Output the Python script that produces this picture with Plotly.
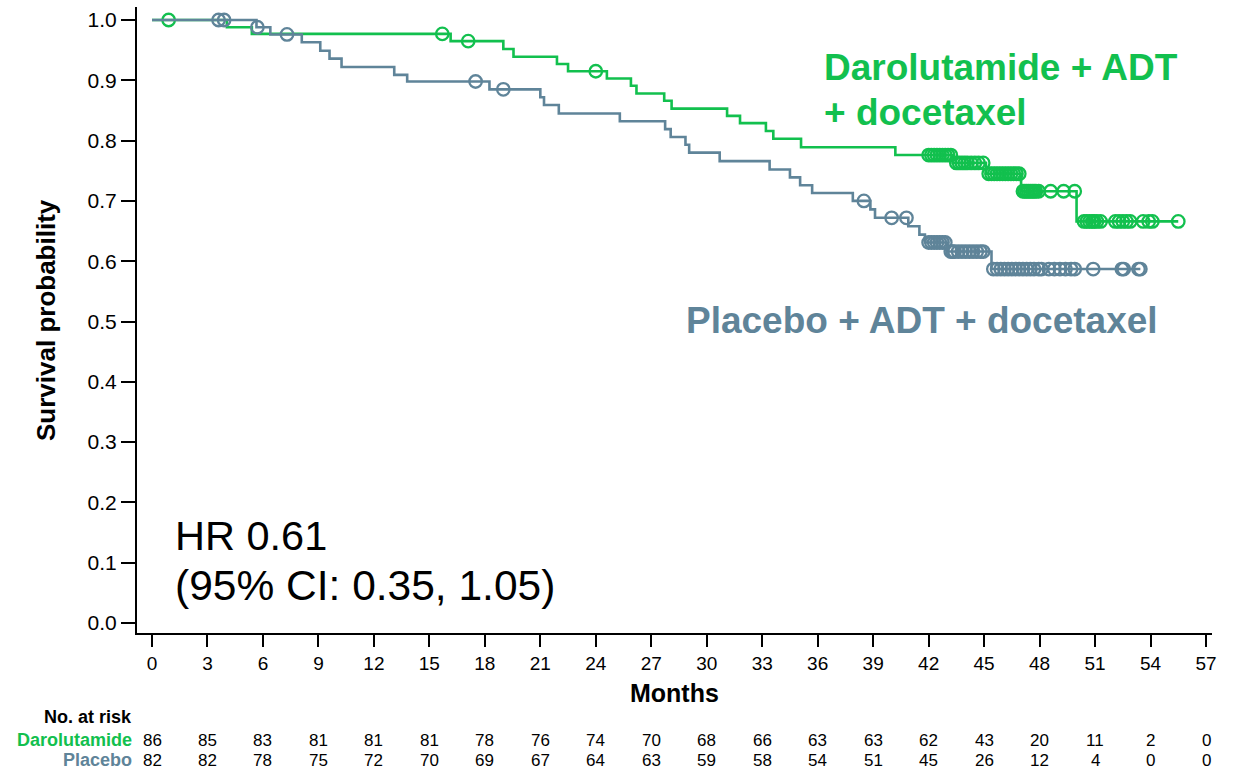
import numpy as np
import plotly.graph_objects as go

# ---------------- data ----------------
month_ticks = list(range(0, 58, 3))
surv_ticks = [0.0, 0.1, 0.2, 0.3, 0.4, 0.5, 0.6, 0.7, 0.8, 0.9, 1.0]

daro_event_t = [4.05, 5.4, 16.15, 19.0, 19.55, 21.9, 22.5, 24.6, 25.9, 26.2, 27.7, 28.1,
                31.1, 31.8, 33.2, 33.6, 35.1, 40.2, 43.3, 45.1, 47.0, 50.0]
daro_event_s = [0.988, 0.977, 0.965, 0.952, 0.939, 0.927, 0.915, 0.903, 0.891, 0.878, 0.866, 0.853,
                0.841, 0.829, 0.816, 0.803, 0.789, 0.776, 0.763, 0.745, 0.716, 0.666]
daro_cens_t = [0.9, 15.7, 17.1, 24.0,
               42.0, 42.15, 42.3, 42.45, 42.6, 42.75, 42.9, 43.05, 43.2,
               43.5, 43.65, 43.8, 43.95, 44.1, 44.3, 44.5, 44.7, 44.95,
               45.25, 45.4, 45.55, 45.7, 45.85, 46.0, 46.15, 46.3, 46.45, 46.6, 46.75, 46.9,
               47.1, 47.2, 47.3, 47.4, 47.5, 47.6, 47.7, 47.8, 47.95,
               48.6, 49.3, 49.9, 50.4, 50.55, 50.7, 50.85, 50.95,
               51.1, 51.3, 52.1, 52.3, 52.5, 52.7, 52.9, 53.6, 53.9,
               54.1, 55.5]

plac_event_t = [5.65, 6.4, 8.1, 9.1, 9.6, 10.25, 13.1, 13.8, 18.25, 21.0, 21.2, 22.0,
                25.3, 27.75, 28.05, 28.85, 29.05, 30.7, 33.4, 34.5, 35.05, 35.7, 37.9,
                38.85, 39.1, 40.9, 41.5, 41.8, 43.0, 45.4]
plac_event_s = [0.988, 0.976, 0.963, 0.949, 0.936, 0.922, 0.909, 0.898, 0.885, 0.872, 0.859, 0.845,
                0.832, 0.819, 0.806, 0.793, 0.780, 0.766, 0.752, 0.739, 0.726, 0.713, 0.700,
                0.686, 0.672, 0.658, 0.644, 0.631, 0.616, 0.587]
plac_cens_t = [3.6, 3.9, 5.7, 7.3, 17.5, 19.0, 38.5, 40.0, 40.8,
               42.0, 42.15, 42.3, 42.45, 42.6, 42.75, 42.9,
               43.2, 43.3, 43.4, 43.6, 43.8, 44.0, 44.2, 44.4, 44.6, 44.8, 44.95,
               45.5, 45.7, 45.9, 46.1, 46.3, 46.5, 46.7, 46.9, 47.1, 47.3, 47.5, 47.7, 47.95,
               48.1, 48.5, 48.8, 49.1, 49.4, 49.7, 49.9, 50.9,
               52.45, 52.55, 53.35, 53.45]

risk_daro = [86, 85, 83, 81, 81, 81, 78, 76, 74, 70, 68, 66, 63, 63, 62, 43, 20, 11, 2, 0]
risk_plac = [82, 82, 78, 75, 72, 70, 69, 67, 64, 63, 59, 58, 54, 51, 45, 26, 12, 4, 0, 0]

GREEN = "#12C04E"
SLATE = "#5F8499"
FONT = "Arial, Liberation Sans, sans-serif"


def step_curve(ev_t, ev_s, t_end):
    xs = [0.0] + list(ev_t) + [t_end]
    ys = [1.0] + list(ev_s) + [ev_s[-1]]
    return xs, ys


def surv_at(ev_t, ev_s, times):
    idx = np.searchsorted(np.array(ev_t), np.array(times), side="right")
    lookup = np.array([1.0] + list(ev_s))
    return lookup[idx]


fig = go.Figure()

for ev_t, ev_s, cens, col in [(daro_event_t, daro_event_s, daro_cens_t, GREEN),
                              (plac_event_t, plac_event_s, plac_cens_t, SLATE)]:
    xs, ys = step_curve(ev_t, ev_s, max(cens))
    fig.add_trace(go.Scatter(x=xs, y=ys, mode="lines", line=dict(color=col, width=2.6, shape="hv"),
                             showlegend=False, hoverinfo="skip"))
    fig.add_trace(go.Scatter(x=cens, y=surv_at(ev_t, ev_s, cens), mode="markers",
                             marker=dict(symbol="circle-open", size=12.5, color=col, line=dict(width=2.3, color=col)),
                             showlegend=False, hoverinfo="skip"))

# pixel helpers for the plot area (l=137, r=1212, t=7, b=633)
L, R, T, B = 137, 1212, 7, 633


def px(xp):
    return (xp - L) / (R - L)


def py(yp):
    return (B - yp) / (B - T)


ann = []
ann.append(dict(text="<b>Survival probability</b>", xref="paper", yref="paper", x=px(46), y=py(320),
                textangle=-90, showarrow=False, font=dict(size=26, family=FONT, color="black"),
                xanchor="center", yanchor="middle"))
ann.append(dict(text="<b>Months</b>", xref="paper", yref="paper", x=px(674), y=py(693),
                showarrow=False, font=dict(size=25, family=FONT, color="black"),
                xanchor="center", yanchor="middle"))
ann.append(dict(text="<b>No. at risk</b>", xref="paper", yref="paper", x=px(134), y=py(717),
                showarrow=False, font=dict(size=18, family=FONT, color="black"),
                xanchor="right", yanchor="middle"))
ann.append(dict(text="<b>Darolutamide</b>", xref="paper", yref="paper", x=px(134), y=py(740),
                showarrow=False, font=dict(size=18, family=FONT, color=GREEN),
                xanchor="right", yanchor="middle"))
ann.append(dict(text="<b>Placebo</b>", xref="paper", yref="paper", x=px(134), y=py(760),
                showarrow=False, font=dict(size=18, family=FONT, color=SLATE),
                xanchor="right", yanchor="middle"))
for m, a, b in zip(month_ticks, risk_daro, risk_plac):
    ann.append(dict(text=str(a), xref="x", yref="paper", x=m, y=py(740), showarrow=False,
                    font=dict(size=17, family=FONT, color="black"), xanchor="center", yanchor="middle"))
    ann.append(dict(text=str(b), xref="x", yref="paper", x=m, y=py(760), showarrow=False,
                    font=dict(size=17, family=FONT, color="black"), xanchor="center", yanchor="middle"))

ann.append(dict(text="<b>Darolutamide + ADT</b>", xref="paper", yref="paper", x=px(822), y=py(67),
                showarrow=False, font=dict(size=37, family=FONT, color=GREEN), xanchor="left", yanchor="middle"))
ann.append(dict(text="<b>+ docetaxel</b>", xref="paper", yref="paper", x=px(822), y=py(112),
                showarrow=False, font=dict(size=37, family=FONT, color=GREEN), xanchor="left", yanchor="middle"))
ann.append(dict(text="<b>Placebo + ADT + docetaxel</b>", xref="paper", yref="paper", x=px(684), y=py(320),
                showarrow=False, font=dict(size=37, family=FONT, color=SLATE), xanchor="left", yanchor="middle"))
ann.append(dict(text="HR 0.61", xref="paper", yref="paper", x=px(173), y=py(535),
                showarrow=False, font=dict(size=41.5, family=FONT, color="black"), xanchor="left", yanchor="middle"))
ann.append(dict(text="(95% CI: 0.35, 1.05)", xref="paper", yref="paper", x=px(173), y=py(585),
                showarrow=False, font=dict(size=42.5, family=FONT, color="black"), xanchor="left", yanchor="middle"))

x_per_px = 57 / (1206 - 152)
y_per_px = 1.0 / (623 - 20)

fig.update_layout(
    width=1236, height=771,
    margin=dict(l=L, r=1236 - R, t=T, b=771 - B, pad=0),
    plot_bgcolor="white", paper_bgcolor="white",
    font=dict(family=FONT, color="black"),
    annotations=ann,
    xaxis=dict(range=[-(152 - L) * x_per_px, 57 + (R - 1206) * x_per_px],
               tickvals=month_ticks, ticktext=[str(m) for m in month_ticks],
               ticks="outside", ticklen=12, tickwidth=1.5, tickcolor="black",
               showline=True, linecolor="black", linewidth=2,
               showgrid=False, zeroline=False, tickfont=dict(size=19, family=FONT, color="black")),
    yaxis=dict(range=[-(B - 623) * y_per_px, 1.0 + (20 - T) * y_per_px],
               tickvals=surv_ticks, ticktext=[f"{v:.1f}" for v in surv_ticks],
               ticks="outside", ticklen=14, tickwidth=1.5, tickcolor="black",
               showline=True, linecolor="black", linewidth=2,
               showgrid=False, zeroline=False, tickfont=dict(size=21, family=FONT, color="black")),
)

fig.write_html("out.html")
